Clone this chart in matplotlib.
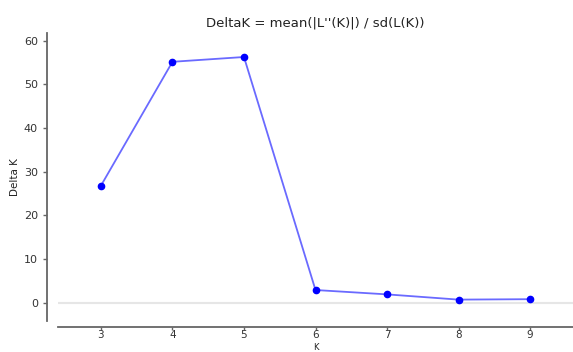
import matplotlib
matplotlib.use("Agg")
import matplotlib.pyplot as plt

k_values = [3, 4, 5, 6, 7, 8, 9]
delta_k = [26.8, 55.2, 56.3, 2.9, 1.9, 0.7, 0.8]
x_ticks = [3, 4, 5, 6, 7, 8, 9]
y_ticks = [0, 10, 20, 30, 40, 50, 60]

fig = plt.figure(figsize=(5.73, 3.52), dpi=100)
left = 58/573
ax = fig.add_axes([left, 31/352, 1 - left, (321-33)/352])

ax.axhline(0, color="#e6e6e6", lw=1.5, zorder=1)
ax.plot(k_values, delta_k, color="#6a6aff", lw=1.3, zorder=2)
ax.plot(k_values, delta_k, "o", color="#0000ff", ms=4.5, zorder=3)

ax.set_xlim(2.4, 9.6)
ax.set_ylim(-4.2, 61.8)
ax.set_xticks(x_ticks)
ax.set_yticks(y_ticks)

for s in ["top", "right"]:
    ax.spines[s].set_visible(False)
ax.spines["left"].set_position(("outward", 8))
ax.spines["bottom"].set_position(("outward", 4))
for s in ["left", "bottom"]:
    ax.spines[s].set_color("#666666")
    ax.spines[s].set_linewidth(1.3)
ax.tick_params(axis="both", colors="#666666", labelcolor="#333333",
               labelsize=8, length=3, width=1)
ax.tick_params(axis="x", pad=0.5, length=2, labelsize=7.5)

ax.set_title("DeltaK = mean(|L''(K)|) / sd(L(K))", fontsize=9.5, color="#222222", pad=5)
ax.set_ylabel("Delta K", fontsize=7.5, color="#222222", labelpad=3)
ax.set_xlabel("K", fontsize=6, color="#222222", va="bottom")
ax.xaxis.set_label_coords((left + 1) / 2, 0.0, transform=fig.transFigure)

fig.savefig("out.png", dpi=100)
